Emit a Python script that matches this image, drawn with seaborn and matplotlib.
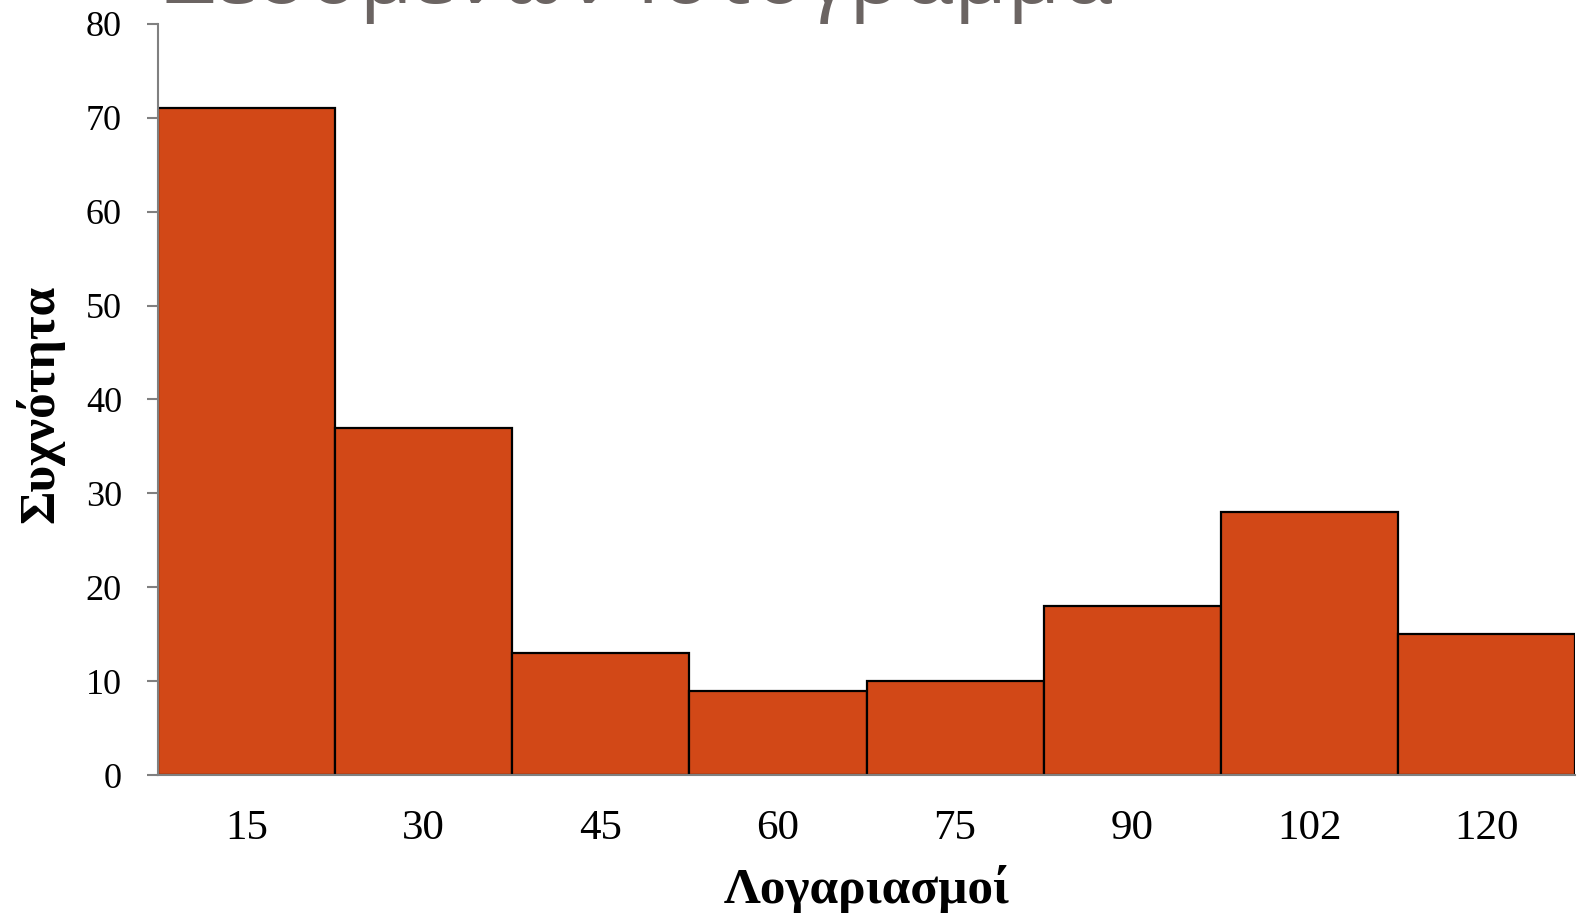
import matplotlib
matplotlib.use("Agg")
import matplotlib.pyplot as plt
import seaborn as sns
import pandas as pd

categories = ["15", "30", "45", "60", "75", "90", "102", "120"]
frequencies = [71, 37, 13, 9, 10, 18, 28, 15]
y_ticks = [0, 10, 20, 30, 40, 50, 60, 70, 80]
title_text = "Δεδομένων Ιστόγραμμα"
x_label = "Λογαριασμοί"
y_label = "Συχνότητα"

df = pd.DataFrame({"cat": categories, "freq": frequencies})

sns.set_theme(style="white")
plt.rcParams["font.family"] = ["Liberation Serif", "DejaVu Serif"]

W, H = 1578, 913
L, R, T, B = 158, 1575, 24, 775
fig = plt.figure(figsize=(W/100, H/100), dpi=100)
ax = fig.add_axes([L/W, 1-B/H, (R-L)/W, (B-T)/H])

sns.barplot(data=df, x="cat", y="freq", order=categories, color="#D24817",
            saturation=1, width=1.0, edgecolor="black", linewidth=1.6, ax=ax)

ax.set_xlim(-0.5, len(categories)-0.5)
ax.set_ylim(0, 80)
ax.set_yticks(y_ticks)
ax.set_yticklabels([str(v) for v in y_ticks], fontsize=26, color="black")
ax.set_xticks(range(len(categories)))
ax.set_xticklabels(categories, fontsize=31, color="black")
ax.tick_params(axis="y", length=8, width=1.5, color="#808080", pad=18, left=True)
ax.tick_params(axis="x", length=0, pad=25)

for s in ["top", "right"]:
    ax.spines[s].set_visible(False)
for s in ["left", "bottom"]:
    ax.spines[s].set_color("#808080")
    ax.spines[s].set_linewidth(1.5)

ax.set_xlabel(x_label, fontsize=37, fontweight="bold", color="black")
ax.xaxis.label.set_va("baseline")
ax.xaxis.set_label_coords(0.5, -(903 - B) / (B - T))

ax.set_ylabel(y_label, fontsize=37, fontweight="bold", color="black")
ax.yaxis.label.set_va("baseline")
ax.yaxis.set_label_coords(-(L - 53) / (R - L), (B - 404) / (B - T))

fig.text(165/W, 1-3/H, title_text, ha="left", va="baseline",
         fontsize=62, color="#6B6462", family=["Open Sans", "DejaVu Sans"])

fig.savefig("out.png", dpi=100)
